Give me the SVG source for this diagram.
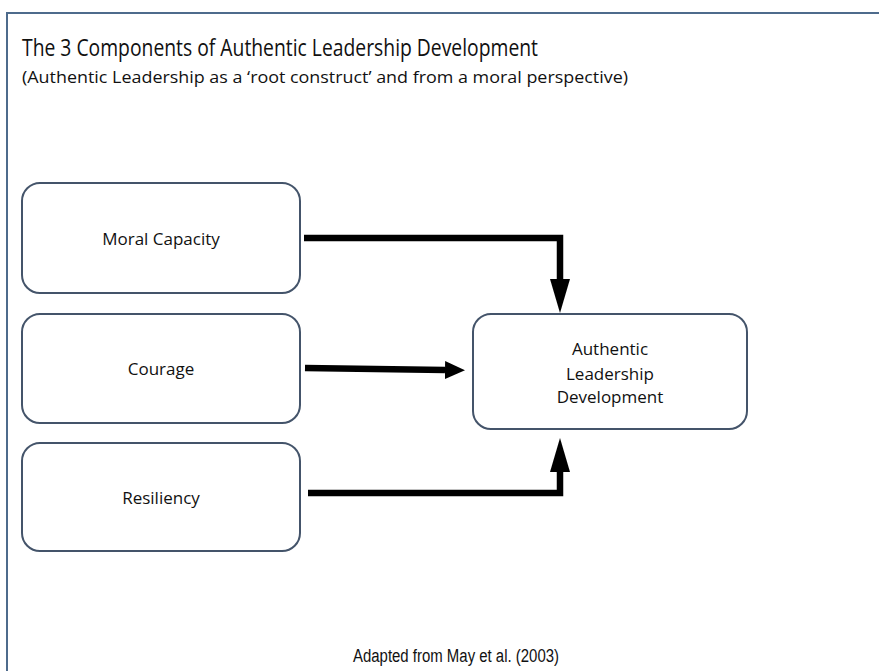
<svg xmlns="http://www.w3.org/2000/svg" width="879" height="671" viewBox="0 0 879 671">
<style>
.box{fill:#ffffff;stroke:#44546a;stroke-width:2}
.lbl{font-family:"Open Sans","Noto Sans","Liberation Sans",sans-serif;font-size:17px;fill:#111;text-anchor:middle}
.conn{fill:none;stroke:#000;stroke-width:6.5;stroke-linejoin:miter}
</style>
<defs>
<marker id="headL" markerUnits="userSpaceOnUse" markerWidth="34" markerHeight="20" viewBox="0 0 34 20" refX="0" refY="10" orient="auto"><path d="M0,0 L34,10 L0,20 z" fill="#000"/></marker>
<marker id="headS" markerUnits="userSpaceOnUse" markerWidth="20" markerHeight="18" viewBox="0 0 20 18" refX="0" refY="9" orient="auto"><path d="M0,0 L20,9 L0,18 z" fill="#000"/></marker>
</defs>
<rect x="0" y="0" width="879" height="671" fill="#ffffff"/>
<rect x="7" y="13" width="900" height="700" fill="#ffffff" stroke="#4e6b8c" stroke-width="2"/>
<text x="22" y="56" font-family="Open Sans,Noto Sans,Liberation Sans,sans-serif" font-size="23" fill="#111" textLength="516" lengthAdjust="spacingAndGlyphs">The 3 Components of Authentic Leadership Development</text>
<text x="22" y="83" font-family="Open Sans,Noto Sans,Liberation Sans,sans-serif" font-size="15.5" fill="#111" textLength="606" lengthAdjust="spacingAndGlyphs">(Authentic Leadership as a ‘root construct’ and from a moral perspective)</text>
<g id="conns">
<polyline class="conn" points="304,238 560,238 560,279" marker-end="url(#headL)"/>
<polyline class="conn" points="305,368 445,370" marker-end="url(#headS)"/>
<polyline class="conn" points="308,493 560,493 560,472" marker-end="url(#headL)"/>
</g>
<g id="moral">
<rect class="box" x="22" y="183" width="278" height="110" rx="18"/>
<text class="lbl" x="161" y="245">Moral Capacity</text>
</g>
<g id="courage">
<rect class="box" x="22" y="314" width="278" height="109" rx="18"/>
<text class="lbl" x="161" y="375">Courage</text>
</g>
<g id="resiliency">
<rect class="box" x="22" y="443" width="278" height="108" rx="18"/>
<text class="lbl" x="161" y="504">Resiliency</text>
</g>
<g id="ald">
<rect class="box" x="473" y="314" width="274" height="115" rx="18"/>
<text class="lbl" x="610" y="355">Authentic</text>
<text class="lbl" x="610" y="380">Leadership</text>
<text class="lbl" x="610" y="403">Development</text>
</g>
<text x="353" y="662" font-family="Liberation Sans,Arial,sans-serif" font-size="18" fill="#111" textLength="206" lengthAdjust="spacingAndGlyphs">Adapted from May et al. (2003)</text>
</svg>
